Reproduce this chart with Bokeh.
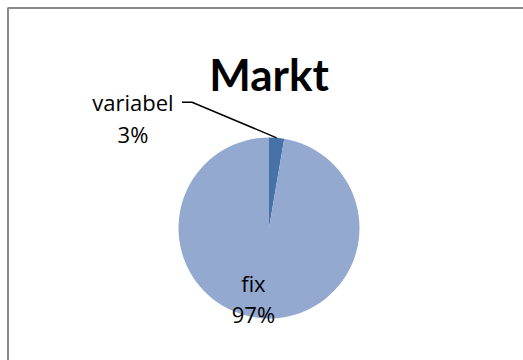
import math
from bokeh.plotting import figure
from bokeh.models import Range1d, ColumnDataSource
from bokeh.core.properties import value
from bokeh.embed import file_html
from bokeh.resources import INLINE

title_text = "Markt"
categories = ["variabel", "fix"]
shares = [2.7, 97.3]
colors = ["#4672A8", "#94A9D0"]

W, H = 523, 360
p = figure(width=W, height=H, output_backend="svg", toolbar_location=None,
           x_range=Range1d(0, W), y_range=Range1d(0, H), min_border=0)
p.axis.visible = False
p.grid.visible = False
p.outline_line_color = None
p.background_fill_color = "white"
p.border_fill_color = "white"

# chart frame (right/bottom edges lie outside the window)
p.line(x=[7.5, 7.5, 540], y=[-20, H - 7.5, H - 7.5], line_color="#8a8a8a", line_width=2)

cx, cy, r = 268.5, H - 227.5, 90.5
total = sum(shares)
starts, ends, mids = [], [], []
acc = 0.0
for v in shares:
    a0 = math.pi / 2 - 2 * math.pi * acc / total
    acc += v
    a1 = math.pi / 2 - 2 * math.pi * acc / total
    starts.append(a0)
    ends.append(a1)
    mids.append((a0 + a1) / 2)

src = ColumnDataSource(dict(cat=categories, start=starts, end=ends, color=colors))
p.wedge(x=cx, y=cy, radius=r, start_angle="start", end_angle="end", direction="clock",
        fill_color="color", line_color=None, source=src)

tfont = value("Lato")
font = value("Open Sans")
fs = "22px"
pct = [f"{round(v / total * 100)}%" for v in shares]

# title
p.text(x=[cx], y=[H - 73], text=[title_text], text_font=tfont, text_font_style="bold",
       text_font_size="44px", text_align="center", text_baseline="alphabetic", text_color="black")

# variabel label with leader line
lx, ly = 132.5, H - 101.7
ex = cx + r * math.cos(mids[0])
ey = cy + r * math.sin(mids[0])
p.line(x=[lx + 49, lx + 59, ex], y=[ly, ly, ey], line_color="black", line_width=1.5)
p.text(x=[lx], y=[ly], text=[categories[0]], text_font=font, text_font_size=fs,
       text_align="center", text_baseline="alphabetic", text_color="black")
p.text(x=[lx], y=[ly - 31.5], text=[pct[0]], text_font=font, text_font_size=fs,
       text_align="center", text_baseline="alphabetic", text_color="black")

# fix label inside slice
fx = cx + 0.6 * r * math.cos(mids[1]) - 11
fy = cy + 0.6 * r * math.sin(mids[1])
p.text(x=[fx], y=[fy - 1], text=[categories[1]], text_font=font, text_font_size=fs,
       text_align="center", text_baseline="alphabetic", text_color="black")
p.text(x=[fx], y=[fy - 31.5], text=[pct[1]], text_font=font, text_font_size=fs,
       text_align="center", text_baseline="alphabetic", text_color="black")

open("out.html", "w").write(file_html(p, INLINE))
